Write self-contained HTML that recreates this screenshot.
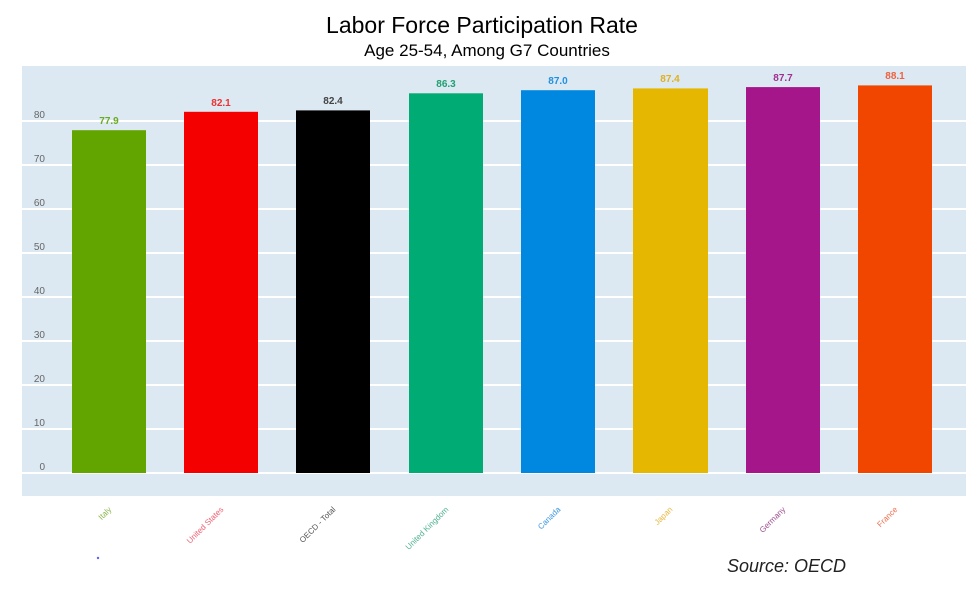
<!DOCTYPE html><html><head><style>
body{margin:0;background:#fff;width:980px;height:585px;overflow:hidden;font-family:"Liberation Sans",sans-serif}
</style></head><body>
<svg width="980" height="585" xmlns="http://www.w3.org/2000/svg" font-family="Liberation Sans, sans-serif">
<text x="482" y="33" text-anchor="middle" font-size="23" fill="#000">Labor Force Participation Rate</text>
<text x="487" y="56" text-anchor="middle" font-size="17" fill="#000">Age 25-54, Among G7 Countries</text>
<rect x="22" y="66" width="944" height="430" fill="#dce9f2"/>
<g stroke="#fff" stroke-width="2">
<line x1="22" x2="966" y1="473" y2="473"/><line x1="22" x2="966" y1="429" y2="429"/>
<line x1="22" x2="966" y1="385" y2="385"/><line x1="22" x2="966" y1="341" y2="341"/>
<line x1="22" x2="966" y1="297" y2="297"/><line x1="22" x2="966" y1="253" y2="253"/>
<line x1="22" x2="966" y1="209" y2="209"/><line x1="22" x2="966" y1="165" y2="165"/>
<line x1="22" x2="966" y1="121" y2="121"/>
</g>
<g font-size="10" fill="#666" text-anchor="end">
<text x="45" y="470">0</text><text x="45" y="426">10</text><text x="45" y="382">20</text>
<text x="45" y="338">30</text><text x="45" y="294">40</text><text x="45" y="250">50</text>
<text x="45" y="206">60</text><text x="45" y="162">70</text><text x="45" y="118">80</text>
</g>
<g>
<rect x="72" y="130.2" width="74" height="342.8" fill="#62a500"/>
<rect x="184" y="111.8" width="74" height="361.2" fill="#f50000"/>
<rect x="296" y="110.4" width="74" height="362.6" fill="#000"/>
<rect x="409" y="93.3" width="74" height="379.7" fill="#00ab74"/>
<rect x="521" y="90.2" width="74" height="382.8" fill="#0088e0"/>
<rect x="633" y="88.4" width="75" height="384.6" fill="#e6b700"/>
<rect x="746" y="87.1" width="74" height="385.9" fill="#a4168a"/>
<rect x="858" y="85.4" width="74" height="387.6" fill="#f04600"/>
</g>
<g font-size="10" font-weight="bold" text-anchor="middle">
<text x="109" y="124" fill="#6aaa20">77.9</text>
<text x="221" y="106" fill="#f03030">82.1</text>
<text x="333" y="104" fill="#444">82.4</text>
<text x="446" y="87" fill="#20a070">86.3</text>
<text x="558" y="84" fill="#2090e0">87.0</text>
<text x="670" y="82" fill="#e0b020">87.4</text>
<text x="783" y="81" fill="#a03090">87.7</text>
<text x="895" y="79" fill="#f06040">88.1</text>
</g>
<g font-size="8" text-anchor="end">
<text transform="translate(112,510) rotate(-45)" fill="#8ab850">Italy</text>
<text transform="translate(224,510) rotate(-45)" fill="#f06070">United States</text>
<text transform="translate(336,510) rotate(-45)" fill="#555">OECD - Total</text>
<text transform="translate(449,510) rotate(-45)" fill="#50b090">United Kingdom</text>
<text transform="translate(561,510) rotate(-45)" fill="#4098e0">Canada</text>
<text transform="translate(673,510) rotate(-45)" fill="#e8b840">Japan</text>
<text transform="translate(786,510) rotate(-45)" fill="#a05090">Germany</text>
<text transform="translate(898,510) rotate(-45)" fill="#f07050">France</text>
</g>
<circle cx="98" cy="558" r="1.2" fill="#6060ff"/>
<text x="727" y="572" font-size="18" font-style="italic" fill="#222">Source:  OECD</text>
</svg>
</body></html>
